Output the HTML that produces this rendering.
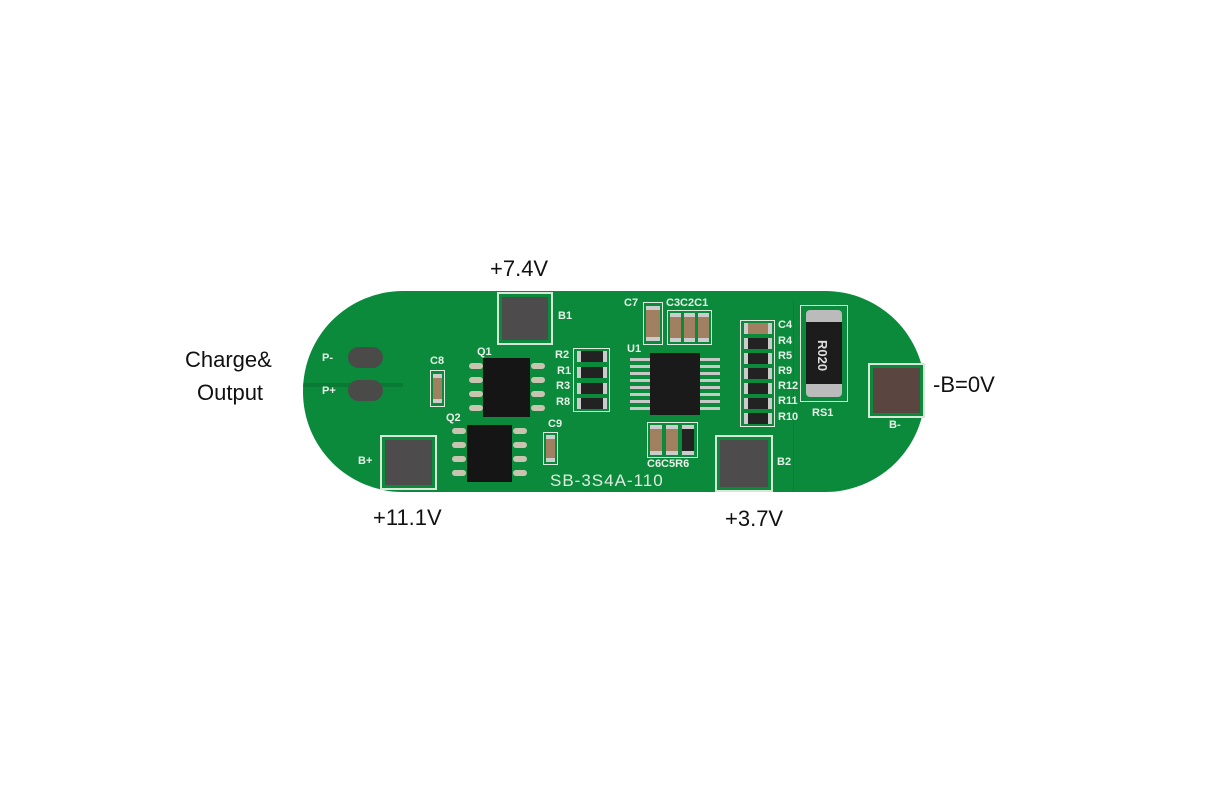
<!DOCTYPE html>
<html><head><style>
body{margin:0;width:1212px;height:800px;background:#fff;position:relative;overflow:hidden;font-family:"Liberation Sans",sans-serif}
.a{position:absolute}
.t{position:absolute;font-size:22px;color:#111;line-height:1}
.board{left:303px;top:291px;width:622px;height:201px;border-radius:100px;background:#0b8a3c;overflow:hidden}
.pad{position:absolute;border:2px solid #d8e8d8;background:#0b8a3c;box-sizing:border-box;padding:3px}
.pad div{width:100%;height:100%;background:#4d4b4b}
.chip{position:absolute;background:#151515}
.pin{position:absolute;width:14px;height:6px;background:#c9c4b0;border-radius:3px}
.silk{position:absolute;color:#e8f0e8;font-size:11px;font-weight:bold;line-height:1}
.box{position:absolute;border:1.5px solid #dfeadf;box-sizing:border-box}
.cap{position:absolute;background:#a08060;border-top:4px solid #ccc;border-bottom:4px solid #ccc;box-sizing:border-box}
.res{position:absolute;background:#222;border-left:4px solid #ccc;border-right:4px solid #ccc;box-sizing:border-box}
.oval{position:absolute;width:35px;height:21px;border-radius:11px;background:#4a4a48}
</style></head><body>
<div class="t" style="left:490px;top:258px">+7.4V</div>
<div class="t" style="left:185px;top:349px">Charge&amp;</div>
<div class="t" style="left:197px;top:382px">Output</div>
<div class="t" style="left:933px;top:374px">-B=0V</div>
<div class="t" style="left:373px;top:507px">+11.1V</div>
<div class="t" style="left:725px;top:508px">+3.7V</div>

<div class="a board">
  <div class="a" style="left:490px;top:10px;width:1px;height:190px;background:#0a7d36"></div>
  <div class="a" style="left:0;top:92px;width:100px;height:4px;background:#097a34"></div>
</div>
<!-- absolute parts relative to page -->
<div class="pad" style="left:497px;top:292px;width:56px;height:53px"><div></div></div>
<div class="silk" style="left:558px;top:311px">B1</div>
<div class="pad" style="left:380px;top:435px;width:57px;height:55px"><div></div></div>
<div class="silk" style="left:358px;top:456px">B+</div>
<div class="pad" style="left:715px;top:435px;width:58px;height:57px"><div></div></div>
<div class="silk" style="left:777px;top:457px">B2</div>
<div class="pad" style="left:868px;top:363px;width:57px;height:55px"><div style="background:#5a4540"></div></div>
<div class="silk" style="left:889px;top:420px">B-</div>

<div class="oval" style="left:348px;top:347px"></div>
<div class="oval" style="left:348px;top:380px"></div>
<div class="silk" style="left:322px;top:353px">P-</div>
<div class="silk" style="left:322px;top:386px">P+</div>

<div class="box" style="left:430px;top:370px;width:15px;height:37px"></div>
<div class="cap" style="left:433px;top:374px;width:9px;height:29px"></div>
<div class="silk" style="left:430px;top:356px">C8</div>
<div class="box" style="left:543px;top:432px;width:15px;height:33px"></div>
<div class="cap" style="left:546px;top:435px;width:9px;height:27px"></div>
<div class="silk" style="left:548px;top:419px">C9</div>

<div class="chip" style="left:483px;top:358px;width:47px;height:59px"></div>
<div class="pin" style="left:469px;top:363px"></div><div class="pin" style="left:469px;top:377px"></div><div class="pin" style="left:469px;top:391px"></div><div class="pin" style="left:469px;top:405px"></div>
<div class="pin" style="left:531px;top:363px"></div><div class="pin" style="left:531px;top:377px"></div><div class="pin" style="left:531px;top:391px"></div><div class="pin" style="left:531px;top:405px"></div>
<div class="silk" style="left:477px;top:347px">Q1</div>
<div class="chip" style="left:467px;top:425px;width:45px;height:57px"></div>
<div class="pin" style="left:452px;top:428px"></div><div class="pin" style="left:452px;top:442px"></div><div class="pin" style="left:452px;top:456px"></div><div class="pin" style="left:452px;top:470px"></div>
<div class="pin" style="left:513px;top:428px"></div><div class="pin" style="left:513px;top:442px"></div><div class="pin" style="left:513px;top:456px"></div><div class="pin" style="left:513px;top:470px"></div>
<div class="silk" style="left:446px;top:413px">Q2</div>

<div class="box" style="left:573px;top:348px;width:37px;height:64px"></div>
<div class="res" style="left:577px;top:351px;width:30px;height:11px"></div>
<div class="res" style="left:577px;top:367px;width:30px;height:11px"></div>
<div class="res" style="left:577px;top:383px;width:30px;height:11px"></div>
<div class="res" style="left:577px;top:398px;width:30px;height:11px"></div>
<div class="silk" style="left:555px;top:350px">R2</div>
<div class="silk" style="left:557px;top:366px">R1</div>
<div class="silk" style="left:556px;top:381px">R3</div>
<div class="silk" style="left:556px;top:397px">R8</div>

<div class="box" style="left:643px;top:302px;width:20px;height:43px"></div>
<div class="cap" style="left:646px;top:306px;width:14px;height:35px"></div>
<div class="silk" style="left:624px;top:298px">C7</div>
<div class="box" style="left:667px;top:310px;width:45px;height:35px"></div>
<div class="cap" style="left:670px;top:313px;width:11px;height:29px"></div>
<div class="cap" style="left:684px;top:313px;width:11px;height:29px"></div>
<div class="cap" style="left:698px;top:313px;width:11px;height:29px"></div>
<div class="silk" style="left:666px;top:298px">C3C2C1</div>

<div class="chip" style="left:650px;top:353px;width:50px;height:62px;background:#1a1a1a"></div>
<div class="a" style="left:630px;top:358px;width:20px;height:54px;background:repeating-linear-gradient(#c8c8c8 0 3px,transparent 3px 7px)"></div>
<div class="a" style="left:700px;top:358px;width:20px;height:54px;background:repeating-linear-gradient(#c8c8c8 0 3px,transparent 3px 7px)"></div>
<div class="silk" style="left:627px;top:344px">U1</div>

<div class="box" style="left:647px;top:422px;width:51px;height:36px"></div>
<div class="cap" style="left:650px;top:425px;width:12px;height:30px"></div>
<div class="cap" style="left:666px;top:425px;width:12px;height:30px"></div>
<div class="res" style="left:682px;top:425px;width:12px;height:30px;border:none;border-top:4px solid #ccc;border-bottom:4px solid #ccc"></div>
<div class="silk" style="left:647px;top:459px">C6C5R6</div>
<div class="a" style="left:550px;top:471px;color:#e0ece0;font-size:17px;letter-spacing:1px">SB-3S4A-110</div>

<div class="box" style="left:740px;top:320px;width:35px;height:107px"></div>
<div class="cap" style="left:744px;top:323px;width:28px;height:11px;border:none;border-left:4px solid #ccc;border-right:4px solid #ccc"></div>
<div class="res" style="left:744px;top:338px;width:28px;height:11px"></div>
<div class="res" style="left:744px;top:353px;width:28px;height:11px"></div>
<div class="res" style="left:744px;top:368px;width:28px;height:11px"></div>
<div class="res" style="left:744px;top:383px;width:28px;height:11px"></div>
<div class="res" style="left:744px;top:398px;width:28px;height:11px"></div>
<div class="res" style="left:744px;top:413px;width:28px;height:11px"></div>
<div class="silk" style="left:778px;top:320px">C4</div>
<div class="silk" style="left:778px;top:336px">R4</div>
<div class="silk" style="left:778px;top:351px">R5</div>
<div class="silk" style="left:778px;top:366px">R9</div>
<div class="silk" style="left:778px;top:381px">R12</div>
<div class="silk" style="left:778px;top:396px">R11</div>
<div class="silk" style="left:778px;top:412px">R10</div>

<div class="box" style="left:800px;top:305px;width:48px;height:97px"></div>
<div class="a" style="left:806px;top:310px;width:36px;height:87px;background:#bbb;border-radius:4px"></div>
<div class="a" style="left:806px;top:322px;width:36px;height:62px;background:#1c1c1c"></div>
<div class="a" style="left:815px;top:340px;color:#ddd;font-size:13px;font-weight:bold;writing-mode:vertical-rl">R020</div>
<div class="silk" style="left:812px;top:408px">RS1</div>
</body></html>
